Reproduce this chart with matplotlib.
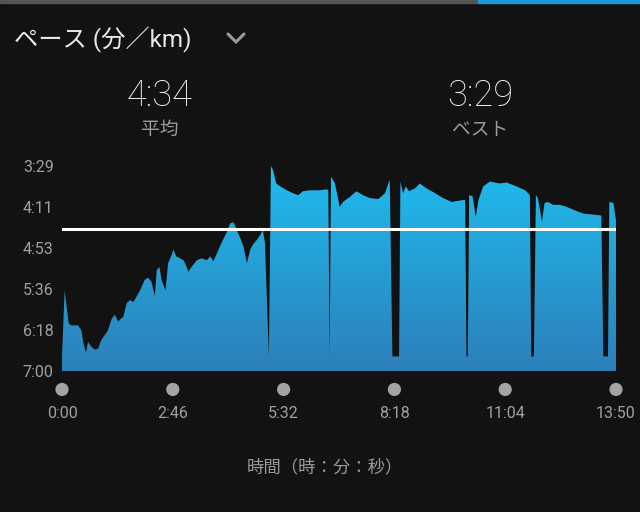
import matplotlib
matplotlib.use("Agg")
import matplotlib.pyplot as plt
import matplotlib.patches as mpatches
from matplotlib.lines import Line2D
from matplotlib.colors import LinearSegmentedColormap
from matplotlib.transforms import blended_transform_factory
import numpy as np

# elapsed time (s) and pace (s per km)
time_s = [0, 4, 10, 14, 24, 29, 32, 36, 39, 44, 49, 54, 59, 64, 69, 74, 79, 84, 92, 97,
          102, 107, 112, 117, 124, 129, 134, 139, 142, 146, 149, 155, 159, 164, 167, 171,
          177, 182, 187, 189, 194, 202, 209, 217, 222, 227, 232, 239, 247, 252, 257, 262,
          267, 272, 277, 282, 287, 292, 297, 301, 304, 310, 313, 316, 321, 327, 337, 346,
          354, 361, 371, 386, 396, 399, 401, 403, 409, 416, 421, 431, 441, 451, 461, 474,
          484, 491, 495, 505, 507, 511, 515, 520, 529, 536, 546, 559, 571, 584, 601, 604,
          606, 608, 610, 615, 620, 624, 631, 641, 656, 666, 681, 694, 701, 703, 707, 710,
          713, 719, 723, 728, 736, 746, 756, 766, 781, 796, 808, 811, 818, 820, 826, 830]
pace_s = [405, 337, 371, 373, 373, 378, 391, 401, 390, 395, 398, 397, 388, 383, 378, 367,
          362, 369, 364, 350, 347, 349, 343, 337, 326, 324, 328, 343, 316, 313, 326, 337,
          309, 301, 295, 302, 304, 306, 313, 318, 313, 306, 304, 306, 302, 307, 299, 288,
          277, 268, 267, 275, 283, 292, 309, 295, 289, 285, 280, 275, 288, 405, 209, 213,
          227, 230, 234, 237, 239, 235, 234, 234, 233, 234, 405, 220, 227, 251, 246, 241,
          235, 239, 242, 243, 237, 223, 405, 405, 225, 237, 230, 235, 232, 227, 232, 237,
          242, 246, 244, 244, 405, 405, 239, 240, 261, 244, 230, 225, 227, 226, 230, 234,
          239, 405, 405, 239, 242, 266, 247, 246, 249, 249, 251, 254, 258, 259, 260, 405,
          405, 246, 247, 265]

avg_pace = 274   # 4:34
best_pace = 209  # 3:29
y_ticks = [209, 251, 293, 336, 378, 420]
y_labels = ["3:29", "4:11", "4:53", "5:36", "6:18", "7:00"]
x_ticks = [0, 166, 332, 498, 664, 830]
x_labels = ["0:00", "2:46", "5:32", "8:18", "11:04", "13:50"]

BG = "#121212"
plt.rcParams["font.family"] = ["Roboto", "Noto Sans CJK JP", "DejaVu Sans"]

fig = plt.figure(figsize=(6.4, 5.12), dpi=100, facecolor=BG)
W, H = 640, 512
ax = fig.add_axes([62 / W, 1 - 371 / H, 554 / W, 205 / H])
ax.set_facecolor(BG)

# gradient area fill clipped to the pace curve
poly = ax.fill_between(time_s, pace_s, 420, facecolor="none", edgecolor="none")
cmap = LinearSegmentedColormap.from_list("pace", ["#2d7fb9", "#1fbcee"])
grad = np.linspace(0, 1, 256).reshape(-1, 1)
im = ax.imshow(grad, cmap=cmap, aspect="auto", extent=[0, 830, 420, 209],
               origin="lower", zorder=1)
im.set_clip_path(poly.get_paths()[0], transform=ax.transData)

ax.axhline(avg_pace, color="white", lw=2.2, zorder=3)

ax.set_xlim(0, 830)
ax.set_ylim(420, 209)
for s in ax.spines.values():
    s.set_visible(False)

ax.set_yticks(y_ticks)
ax.set_yticklabels(y_labels)
ax.set_xticks(x_ticks)
ax.set_xticklabels(x_labels)
ax.tick_params(axis="y", length=0, pad=6, labelsize=11.5, labelcolor="#a0a0a0")
ax.tick_params(axis="x", length=0, pad=25, labelsize=11.5, labelcolor="#a0a0a0")

# dots under each time tick
trans = blended_transform_factory(ax.transData, ax.transAxes)
ax.scatter(x_ticks, [-0.09] * len(x_ticks), s=90, color="#a3a3a3",
           transform=trans, clip_on=False, zorder=4, edgecolors="none")

# header
fig.text(14 / W, 1 - 40 / H, "ペース (分／km)", color="#e8e8e8", fontsize=17.5,
         va="center", ha="left")
fig.add_artist(Line2D([228 / W, 236 / W, 244 / W],
                      [1 - 34 / H, 1 - 42 / H, 1 - 34 / H],
                      transform=fig.transFigure, color="#9a9a9a", lw=2.2,
                      solid_capstyle="round", solid_joinstyle="miter"))
fig.text(160 / W, 1 - 96 / H, "4:34", color="#f0f0f0", fontsize=26,
         va="center", ha="center", fontweight="light")
fig.text(160 / W, 1 - 130 / H, "平均", color="#9a9a9a", fontsize=13.5,
         va="center", ha="center")
fig.text(480 / W, 1 - 96 / H, "3:29", color="#f0f0f0", fontsize=26,
         va="center", ha="center", fontweight="light")
fig.text(480 / W, 1 - 130 / H, "ベスト", color="#9a9a9a", fontsize=13.5,
         va="center", ha="center")
fig.text(325 / W, 1 - 467 / H, "時間（時：分：秒）", color="#9a9a9a", fontsize=12.5,
         va="center", ha="center")

# top progress bar
fig.add_artist(mpatches.Rectangle((0, 1 - 3 / H), 478 / W, 3 / H,
                                  transform=fig.transFigure, color="#555555"))
fig.add_artist(mpatches.Rectangle((478 / W, 1 - 3 / H), 162 / W, 3 / H,
                                  transform=fig.transFigure, color="#1a9ad6"))

fig.savefig("out.png", dpi=100, facecolor=BG)
